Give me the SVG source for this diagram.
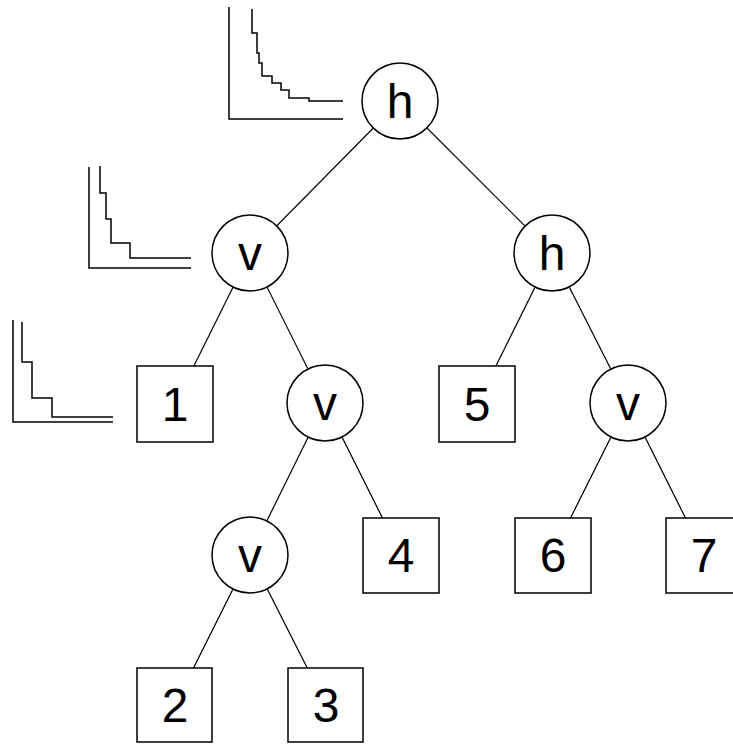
<svg xmlns="http://www.w3.org/2000/svg" width="733" height="744" viewBox="0 0 733 744">
  <style>
    .node circle, .node rect { fill: #ffffff; stroke: #000000; stroke-width: 1.5; }
    .node text { font-family: "Liberation Sans", Arial, sans-serif; font-size: 48px; fill: #000000; text-anchor: middle; }
    .edge { stroke: #000000; stroke-width: 1.2; fill: none; }
    .axis { stroke: #000000; stroke-width: 1.5; fill: none; }
    .stair { stroke: #000000; stroke-width: 1.5; fill: none; }
  </style>
  <rect width="733" height="744" fill="#ffffff"/>

  <!-- shape curves next to the slicing nodes -->
  <g id="curve-root">
    <path class="axis" d="M229,7 V119 H343"/>
    <path class="stair" d="M252,9 V33 H257 V53 H259 V63 H262 V76 H272 V83 H281 V90 H289 V98 H309 V101 H343"/>
  </g>
  <g id="curve-left">
    <path class="axis" d="M89,167 V268 H191"/>
    <path class="stair" d="M100,166 V193 H106 V219 H111 V243 H130 V258 H191"/>
  </g>
  <g id="curve-leaf">
    <path class="axis" d="M13,320 V422 H113"/>
    <path class="stair" d="M22,322 V362 H32 V398 H52 V417 H113"/>
  </g>

  <!-- connectors -->
  <g id="edges">
    <line class="edge" x1="400" y1="101" x2="250" y2="253"/>
    <line class="edge" x1="400" y1="101" x2="552" y2="253"/>
    <line class="edge" x1="250" y1="253" x2="175" y2="404"/>
    <line class="edge" x1="250" y1="253" x2="325" y2="403"/>
    <line class="edge" x1="552" y1="253" x2="477" y2="404"/>
    <line class="edge" x1="552" y1="253" x2="628" y2="403"/>
    <line class="edge" x1="325" y1="403" x2="250" y2="555"/>
    <line class="edge" x1="325" y1="403" x2="401" y2="555"/>
    <line class="edge" x1="628" y1="403" x2="552" y2="555"/>
    <line class="edge" x1="628" y1="403" x2="704" y2="555"/>
    <line class="edge" x1="250" y1="555" x2="175" y2="705"/>
    <line class="edge" x1="250" y1="555" x2="326" y2="705"/>
  </g>

  <!-- internal nodes -->
  <g id="n-root" class="node"><circle cx="400" cy="101" r="38"/><text x="400" y="118">h</text></g>
  <g id="n-v1" class="node"><circle cx="250" cy="253" r="38"/><text x="250" y="270">v</text></g>
  <g id="n-h1" class="node"><circle cx="552" cy="253" r="38"/><text x="552" y="270">h</text></g>
  <g id="n-v2" class="node"><circle cx="325" cy="403" r="38"/><text x="325" y="420">v</text></g>
  <g id="n-v3" class="node"><circle cx="628" cy="403" r="38"/><text x="628" y="420">v</text></g>
  <g id="n-v4" class="node"><circle cx="250" cy="555" r="38"/><text x="250" y="572">v</text></g>

  <!-- leaf modules -->
  <g id="m1" class="node"><rect x="137" y="366" width="76" height="76"/><text x="175" y="421">1</text></g>
  <g id="m5" class="node"><rect x="439" y="366" width="76" height="76"/><text x="477" y="421">5</text></g>
  <g id="m4" class="node"><rect x="363" y="518" width="76" height="75"/><text x="401" y="572">4</text></g>
  <g id="m6" class="node"><rect x="515" y="518" width="76" height="75"/><text x="553" y="572">6</text></g>
  <g id="m7" class="node"><rect x="666" y="518" width="76" height="75"/><text x="704" y="572">7</text></g>
  <g id="m2" class="node"><rect x="137" y="668" width="75" height="74"/><text x="175" y="722">2</text></g>
  <g id="m3" class="node"><rect x="288" y="668" width="75" height="74"/><text x="326" y="722">3</text></g>
</svg>
